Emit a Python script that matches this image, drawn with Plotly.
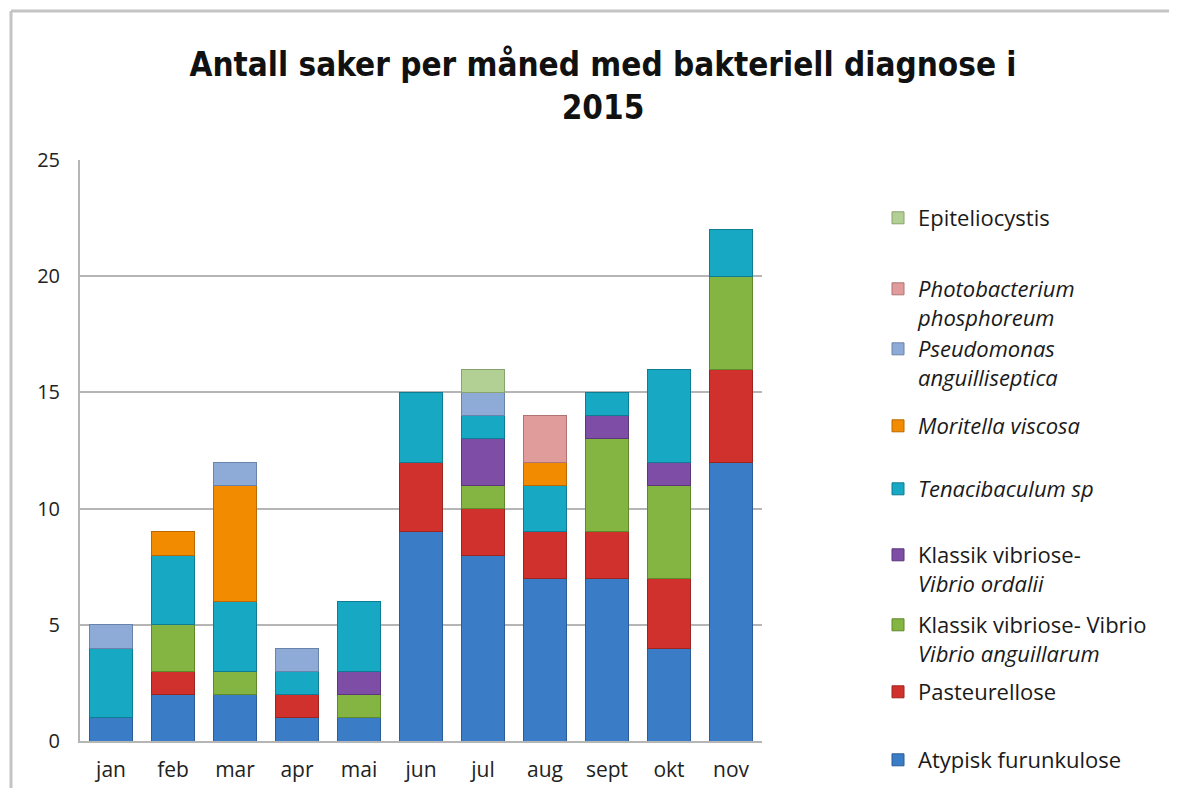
import plotly.graph_objects as go

months = ["jan", "feb", "mar", "apr", "mai", "jun", "jul", "aug", "sept", "okt", "nov"]

atypisk = [1, 2, 2, 1, 1, 9, 8, 7, 7, 4, 12]
pasteurellose = [0, 1, 0, 1, 0, 3, 2, 2, 2, 3, 4]
vibrio_anguillarum = [0, 2, 1, 0, 1, 0, 1, 0, 4, 4, 4]
vibrio_ordalii = [0, 0, 0, 0, 1, 0, 2, 0, 1, 1, 0]
tenacibaculum = [3, 3, 3, 1, 3, 3, 1, 2, 1, 4, 2]
moritella = [0, 1, 5, 0, 0, 0, 0, 1, 0, 0, 0]
pseudomonas = [1, 0, 1, 1, 0, 0, 1, 0, 0, 0, 0]
photobacterium = [0, 0, 0, 0, 0, 0, 0, 2, 0, 0, 0]
epiteliocystis = [0, 0, 0, 0, 0, 0, 1, 0, 0, 0, 0]

series = [
    ("Atypisk furunkulose", atypisk, "#3b7cc6", "#2a5d98"),
    ("Pasteurellose", pasteurellose, "#d1312c", "#9e2420"),
    ("Klassik vibriose- Vibrio<br><i>Vibrio anguillarum</i>", vibrio_anguillarum, "#84b442", "#5f8a2c"),
    ("Klassik vibriose-<br><i>Vibrio ordalii</i>", vibrio_ordalii, "#7e4ea6", "#5b367a"),
    ("<i>Tenacibaculum sp</i>", tenacibaculum, "#17a8c4", "#0e7d93"),
    ("<i>Moritella viscosa</i>", moritella, "#f28b00", "#b86a00"),
    ("<i>Pseudomonas</i><br><i>anguilliseptica</i>", pseudomonas, "#8eaad6", "#6a83aa"),
    ("<i>Photobacterium</i><br><i>phosphoreum</i>", photobacterium, "#e09b9b", "#b07474"),
    ("Epiteliocystis", epiteliocystis, "#b2cf94", "#88a46e"),
]

# legend first-line centres (screen pixels from top)
legend_centres = [758, 690, 623, 553, 487, 424, 347, 287, 216]

OFF = 8  # page body margin
W, H = 1177 - 2 * OFF, 796 - 2 * OFF
# plot area in screen px: left 80, right 762, top 160, bottom 741
L = 80 - OFF
T = 160 - OFF
R = W - (762 - OFF)
B = H - (741 - OFF)
pw, ph = W - L - R, H - T - B

def px_x(sx):
    return (sx - OFF - L) / pw

def px_y(sy):
    return (H - B - (sy - OFF)) / ph

fig = go.Figure()
layout_legends = {}
for i, (name, vals, col, edge) in enumerate(series):
    lname = "legend" if i == 0 else f"legend{i+1}"
    fig.add_trace(go.Bar(
        x=months,
        y=[v if v else None for v in vals],
        name=name,
        marker=dict(color=col, line=dict(color=edge, width=1)),
        legend=lname,
    ))
    layout_legends[lname] = dict(
        x=px_x(878), xanchor="left",
        y=px_y(legend_centres[i] - 19), yanchor="top",
        bgcolor="rgba(0,0,0,0)",
        font=dict(family="Open Sans, sans-serif", size=22, color="#1a1a1a"),
        valign="top",
    )

fig.update_layout(
    width=W, height=H,
    margin=dict(l=L, r=R, t=T, b=B, autoexpand=False),
    barmode="stack",
    bargap=0.32,
    paper_bgcolor="white",
    plot_bgcolor="white",
    title=dict(
        text="<b>Antall saker per måned med bakteriell diagnose i<br>2015</b>",
        x=(603 - OFF) / W, xanchor="center",
        y=1 - 68 / H, yanchor="top", yref="container",
        font=dict(family="DejaVu Sans Condensed, DejaVu Sans, sans-serif", size=33, color="#111"),
    ),
    xaxis=dict(
        showline=True, linecolor="#b5b5b5", linewidth=2,
        tickfont=dict(family="Open Sans, sans-serif", size=21, color="#222"),
        ticks="outside", ticklen=9, tickcolor="rgba(0,0,0,0)", showgrid=False,
    ),
    yaxis=dict(
        range=[0, 25], dtick=5,
        showline=True, linecolor="#b5b5b5", linewidth=2,
        showgrid=True, gridcolor="#b5b5b5", gridwidth=2,
        tickfont=dict(family="Open Sans, sans-serif", size=20, color="#222"),
        ticks="outside", ticklen=14, tickcolor="rgba(0,0,0,0)", zeroline=False,
    ),
    showlegend=True,
    **layout_legends,
)

# outer frame
fig.add_shape(type="line", xref="paper", yref="paper",
              x0=px_x(11), x1=px_x(1177 + 20), y0=px_y(11), y1=px_y(11),
              line=dict(color="#c4c4c4", width=3))
fig.add_shape(type="line", xref="paper", yref="paper",
              x0=px_x(11), x1=px_x(11), y0=px_y(11), y1=px_y(796 + 20),
              line=dict(color="#c4c4c4", width=3))

fig.write_html("out.html")
